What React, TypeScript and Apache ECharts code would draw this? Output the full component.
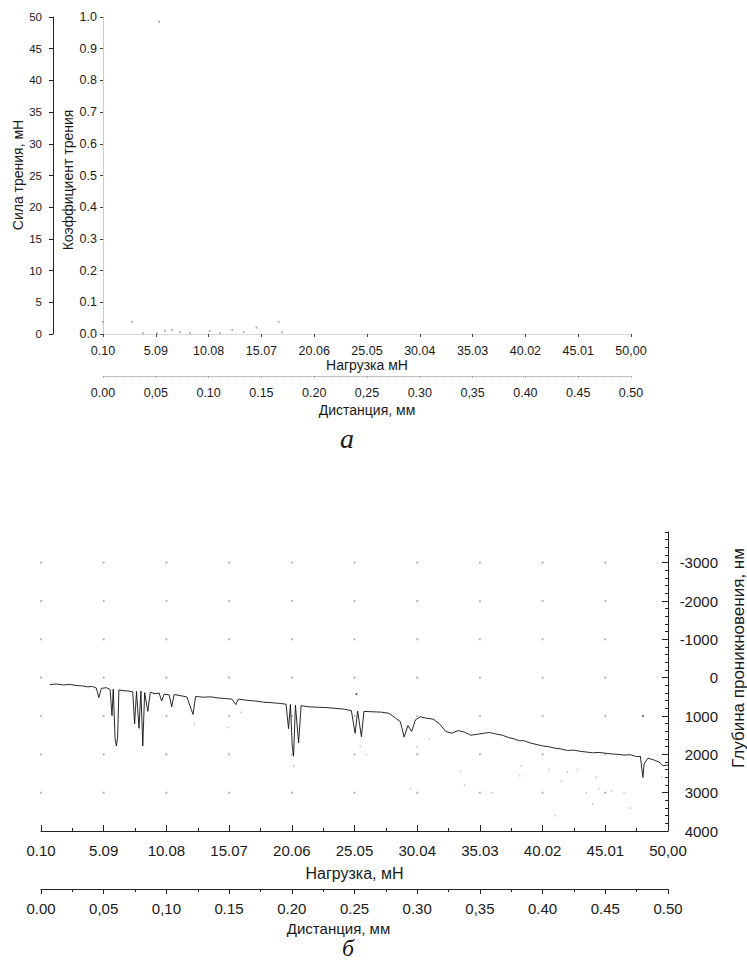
import React, { useEffect, useRef } from "react";
import * as echarts from "echarts";

// ---------- tick labels ----------
const loadLabels = ["0.10", "5.09", "10.08", "15.07", "20.06", "25.05", "30.04", "35.03", "40.02", "45.01", "50,00"];
const distLabelsA = ["0.00", "0,05", "0.10", "0.15", "0.20", "0,25", "0.30", "0,35", "0.40", "0.45", "0.50"];
const distLabelsB = ["0.00", "0,05", "0,10", "0.15", "0.20", "0.25", "0.30", "0,35", "0.40", "0.45", "0.50"];
const distTicks = [0, 0.05, 0.1, 0.15, 0.2, 0.25, 0.3, 0.35, 0.4, 0.45, 0.5];
const depthLabelValues = [-3000, -2000, -1000, 0, 1000, 2000, 3000, 4000];
const depthGridValues = [-3000, -2000, -1000, 0, 1000, 2000, 3000];

// ---------- panel a: friction (near zero) ----------
const frictionCoefPoints: [number, number][] = [
  [0.1, 0.038], [2.84, 0.038], [3.88, 0.003], [5.2, 0.003], [5.96, 0.01], [6.6, 0.013],
  [7.38, 0.006], [8.32, 0.003], [10.2, 0.01], [11.15, 0.003], [12.3, 0.013], [13.4, 0.006],
  [14.6, 0.02], [16.7, 0.038], [17.0, 0.005], [5.4, 0.985],
];

// ---------- panel б: penetration depth vs load ----------
const depthCurve: [number, number][] = [
  [0.8, 180], [1.3, 165], [1.9, 190], [2.4, 175], [2.9, 205], [3.4, 215], [3.8, 240], [4.2, 230],
  [4.5, 270], [4.7, 520], [4.9, 280], [5.3, 260], [5.6, 310], [5.75, 990], [5.85, 300], [6.0, 1620],
  [6.1, 1780], [6.2, 1550], [6.3, 320], [6.7, 340], [7.1, 350], [7.4, 370], [7.55, 1210], [7.7, 360],
  [7.9, 1320], [8.05, 350], [8.2, 1780], [8.35, 390], [8.6, 880], [8.8, 380], [9.2, 420], [9.5, 400],
  [9.7, 610], [9.9, 430], [10.3, 450], [10.5, 760], [10.7, 440], [11.2, 470], [11.7, 500], [12.2, 960],
  [12.4, 490], [13.0, 510], [13.6, 500], [14.2, 530], [14.8, 545], [15.3, 560], [15.6, 700], [15.8, 560],
  [16.5, 590], [17.2, 610], [17.8, 640], [18.4, 650], [19.0, 670], [19.6, 690], [19.8, 1330], [19.95, 700],
  [20.1, 1800], [20.2, 2050], [20.35, 720], [20.6, 1700], [20.8, 730], [21.4, 760], [22.0, 770], [22.8, 780],
  [23.5, 800], [24.2, 820], [24.8, 860], [25.1, 1450], [25.3, 870], [25.6, 1540], [25.8, 880], [26.5, 890],
  [27.2, 900], [27.8, 930], [28.3, 1050], [28.7, 1150], [29.0, 1550], [29.3, 1250], [29.6, 1400], [29.9, 1100],
  [30.3, 1020], [30.8, 1060], [31.3, 1080], [31.8, 1200], [32.3, 1400], [32.8, 1450], [33.3, 1380], [33.8, 1420],
  [34.3, 1500], [34.8, 1480], [35.3, 1450], [35.8, 1430], [36.3, 1470], [36.8, 1500], [37.3, 1560], [37.8, 1600],
  [38.2, 1650], [38.5, 1640], [39.0, 1700], [39.5, 1740], [40.0, 1780], [40.5, 1800], [41.0, 1840], [41.5, 1860],
  [42.0, 1900], [42.5, 1890], [43.0, 1920], [43.5, 1940], [44.0, 1960], [44.5, 1950], [45.0, 1970], [45.5, 1990],
  [46.0, 2000], [46.5, 2020], [47.0, 2010], [47.5, 2060], [47.8, 2050], [48.0, 2600], [48.1, 2250], [48.4, 2100],
  [48.9, 2150], [49.3, 2200], [49.6, 2300], [50.0, 2280],
];
const depthFaintPoints: [number, number][] = [
  [33.5, 2440], [33.8, 2800], [38.2, 2560], [38.3, 2300], [40.5, 2400], [41.5, 2700], [42.0, 2450],
  [43.5, 3000], [44.0, 3300], [44.5, 2900], [45.0, 3000], [45.5, 2950], [46.5, 3000], [47.0, 3400],
  [49.5, 2600], [49.8, 2800], [26.0, 2000], [25.5, 1800], [31.0, 1600], [30.0, 1800], [20.2, 2300],
  [16.0, 900], [15.0, 1300], [12.3, 1200], [29.5, 2900], [36.0, 3000], [41.0, 3600], [44.3, 2600], [42.8, 2400],
];
const depthIsolatedPoints: [number, number][] = [[48.0, 1000], [25.2, 430]];

const FONT = "'Liberation Sans', Arial, sans-serif";
const SERIF = "'Liberation Serif', 'DejaVu Serif', serif";
const INK = "#1a1a1a";

export default function App() {
  const ref = useRef<HTMLDivElement>(null);
  useEffect(() => {
    document.body.style.margin = "0";
    if (!ref.current) return;
    const chart = echarts.init(ref.current, null, { renderer: "svg" });
    const loadFmt = (v: number) => loadLabels[Math.round(v / 0.05)] ?? "";
    const distFmtA = (v: number) => distLabelsA[Math.round(v / 0.05)] ?? "";
    const distFmtB = (v: number) => distLabelsB[Math.round(v / 0.05)] ?? "";
    const gridDots: [number, number][] = [];
    distTicks.slice(0, -1).forEach((x) => depthGridValues.forEach((y) => gridDots.push([x, y])));

    const option: any = {
      animation: false,
      backgroundColor: "#fff",
      textStyle: { fontFamily: FONT, color: INK },
      grid: [
        { left: 103, top: 17, width: 528, height: 317 },
        { left: 41, top: 532, width: 627, height: 299 },
      ],
      xAxis: [
        {
          gridIndex: 0, type: "value", min: 0, max: 0.5, interval: 0.05, position: "bottom",
          name: "Нагрузка мН", nameLocation: "middle", nameGap: 22,
          nameTextStyle: { fontSize: 14, color: INK, fontFamily: FONT },
          axisLine: { show: true, onZero: false, lineStyle: { color: "#d0d0d0", type: "dotted" } },
          axisTick: { show: true, length: 3, lineStyle: { color: "#444" } },
          axisLabel: { margin: 10, fontSize: 12.5, color: INK, formatter: loadFmt, hideOverlap: false },
          splitLine: { show: false },
        },
        {
          gridIndex: 0, type: "value", min: 0, max: 0.5, interval: 0.05, position: "bottom", offset: 42,
          name: "Дистанция, мм", nameLocation: "middle", nameGap: 27,
          nameTextStyle: { fontSize: 14, color: INK, fontFamily: FONT },
          axisLine: { show: true, onZero: false, lineStyle: { color: "#b5b5b5", type: "dotted" } },
          axisTick: { show: true, length: 2, lineStyle: { color: "#aaa" } },
          axisLabel: { margin: 10, fontSize: 12.5, color: INK, formatter: distFmtA, hideOverlap: false },
          splitLine: { show: false },
        },
        { gridIndex: 0, type: "value", min: 0.1, max: 50, show: false, axisLine: { onZero: false } },
        {
          gridIndex: 1, type: "value", min: 0, max: 0.5, interval: 0.05, position: "bottom",
          name: "Нагрузка, мН", nameLocation: "middle", nameGap: 34,
          nameTextStyle: { fontSize: 16, color: INK, fontFamily: FONT },
          axisLine: { show: true, onZero: false, lineStyle: { color: "#222", width: 1 } },
          axisTick: { show: true, inside: true, length: 6, lineStyle: { color: "#222" } },
          minorTick: { show: true, splitNumber: 2, length: 3, lineStyle: { color: "#222" } },
          axisLabel: { margin: 12, fontSize: 15, color: INK, formatter: loadFmt, hideOverlap: false },
          splitLine: { show: false },
        },
        {
          gridIndex: 1, type: "value", min: 0, max: 0.5, interval: 0.05, position: "bottom", offset: 58,
          name: "Дистанция, мм", nameLocation: "middle", nameGap: 32,
          nameTextStyle: { fontSize: 15, color: INK, fontFamily: FONT, padding: [0, 32, 0, 0] },
          axisLine: { show: true, onZero: false, lineStyle: { color: "#222", width: 1 } },
          axisTick: { show: true, length: 5, lineStyle: { color: "#222" } },
          minorTick: { show: true, splitNumber: 2, length: 3, lineStyle: { color: "#222" } },
          axisLabel: { margin: 12, fontSize: 15, color: INK, formatter: distFmtB, hideOverlap: false },
          splitLine: { show: false },
        },
        { gridIndex: 1, type: "value", min: 0.1, max: 50, show: false, axisLine: { onZero: false } },
      ],
      yAxis: [
        {
          gridIndex: 0, type: "value", min: 0, max: 50, interval: 5, position: "left", offset: 50,
          axisLine: { show: true, onZero: false, lineStyle: { color: "#222" } },
          axisTick: { show: true, length: 4, lineStyle: { color: "#222" } },
          axisLabel: { margin: 11, fontSize: 11.5, color: INK },
          splitLine: { show: false },
        },
        {
          gridIndex: 0, type: "value", min: 0, max: 1, interval: 0.1, position: "left", offset: 0,
          axisLine: { show: true, onZero: false, lineStyle: { color: "#c0c0c0", type: "dotted" } },
          axisTick: { show: true, length: 3, lineStyle: { color: "#444" } },
          axisLabel: { margin: 6, fontSize: 12.5, color: INK, formatter: (v: number) => v.toFixed(1) },
          splitLine: { show: false },
        },
        {
          gridIndex: 1, type: "value", min: -3800, max: 4000, inverse: true, position: "right",
          axisLine: { show: true, onZero: false, lineStyle: { color: "#222", width: 1 } },
          axisTick: { show: true, inside: true, length: 6, customValues: depthLabelValues, lineStyle: { color: "#222" } },
          axisLabel: {
            customValues: depthLabelValues, align: "right", margin: 50, fontSize: 15, color: INK,
            formatter: (v: number) => String(v),
          },
          splitLine: { show: false },
        },
        {
          gridIndex: 1, type: "value", min: -3800, max: 4000, interval: 200, inverse: true, position: "right",
          axisLine: { show: false, onZero: false },
          axisTick: { show: true, inside: true, length: 3, lineStyle: { color: "#222" } },
          axisLabel: { show: false },
          splitLine: { show: false },
        },
      ],
      series: [
        {
          type: "scatter", xAxisIndex: 2, yAxisIndex: 1, data: frictionCoefPoints,
          symbolSize: 2, itemStyle: { color: "#999" }, silent: true,
        },
        {
          type: "scatter", xAxisIndex: 3, yAxisIndex: 2, data: gridDots,
          symbolSize: 2, itemStyle: { color: "#999" }, silent: true,
        },
        {
          type: "scatter", xAxisIndex: 5, yAxisIndex: 2, data: depthFaintPoints,
          symbolSize: 1.5, itemStyle: { color: "#aaa" }, silent: true,
        },
        {
          type: "scatter", xAxisIndex: 5, yAxisIndex: 2, data: depthIsolatedPoints,
          symbolSize: 2, itemStyle: { color: "#333" }, silent: true,
        },
        {
          type: "line", xAxisIndex: 5, yAxisIndex: 2, data: depthCurve,
          showSymbol: false, lineStyle: { color: "#111", width: 0.9 }, silent: true,
        },
      ],
      graphic: [
        {
          type: "text", x: 18, y: 175, rotation: Math.PI / 2,
          style: { text: "Сила трения, мН", fill: INK, fontSize: 14, fontFamily: FONT, align: "center", verticalAlign: "middle" },
        },
        {
          type: "text", x: 68, y: 180, rotation: Math.PI / 2,
          style: { text: "Коэффициент трения", fill: INK, fontSize: 14, fontFamily: FONT, align: "center", verticalAlign: "middle" },
        },
        {
          type: "text", x: 738, y: 658, rotation: Math.PI / 2,
          style: { text: "Глубина проникновения, нм", fill: INK, fontSize: 17, fontFamily: FONT, align: "center", verticalAlign: "middle" },
        },
        {
          type: "text", x: 347, y: 438,
          style: { text: "а", fill: INK, fontSize: 28, fontStyle: "italic", fontFamily: SERIF, align: "center", verticalAlign: "middle" },
        },
        {
          type: "text", x: 348, y: 948,
          style: { text: "б", fill: INK, fontSize: 24, fontStyle: "italic", fontFamily: SERIF, align: "center", verticalAlign: "middle" },
        },
      ],
    };
    chart.setOption(option);
    return () => chart.dispose();
  }, []);
  return <div ref={ref} style={{ position: "absolute", left: 0, top: 0, width: 747, height: 965 }} />;
}
